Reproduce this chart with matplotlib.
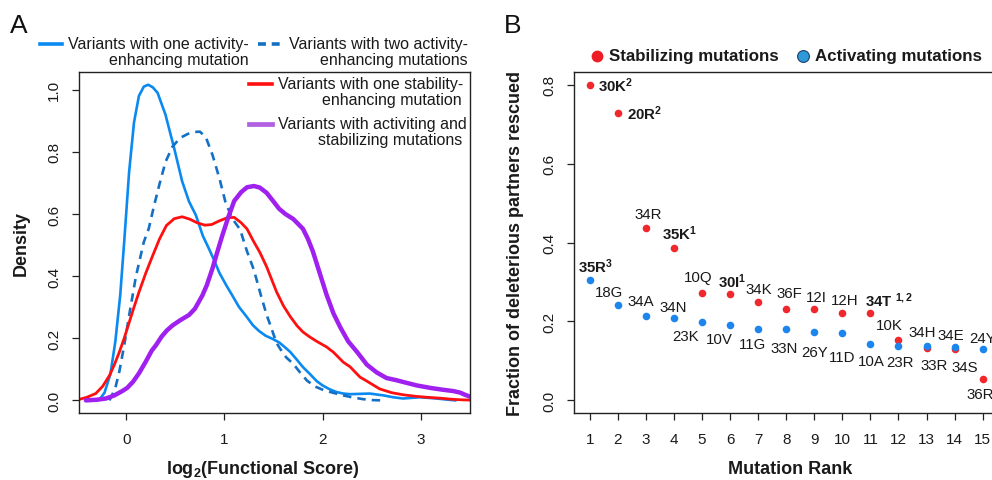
import matplotlib
matplotlib.use("Agg")
import matplotlib.pyplot as plt
from matplotlib.lines import Line2D

plt.rcParams['font.family'] = ['Liberation Sans', 'DejaVu Sans']
plt.rcParams['mathtext.fontset'] = 'custom'
plt.rcParams['mathtext.rm'] = 'Liberation Sans'
plt.rcParams['mathtext.bf'] = 'Liberation Sans:bold'
plt.rcParams['mathtext.it'] = 'Liberation Sans:italic'

# ---------------- Panel A data (density curves) ----------------
act1_x = [-0.30, -0.27, -0.22, -0.16, -0.11, -0.06, -0.02, 0.03, 0.08, 0.13, 0.18, 0.224, 0.27, 0.32,
          0.40, 0.49, 0.57, 0.64, 0.71, 0.78, 0.84, 0.89, 0.95, 1.02, 1.08, 1.15, 1.22, 1.29, 1.35, 1.42,
          1.49, 1.56, 1.62, 1.67, 1.74, 1.80, 1.87, 1.94, 2.00, 2.07, 2.14, 2.21, 2.28, 2.38, 2.48, 2.55,
          2.62, 2.72, 2.82, 2.90, 2.99, 3.08, 3.16, 3.25, 3.35]
act1_y = [0.000, 0.003, 0.025, 0.085, 0.19, 0.34, 0.51, 0.735, 0.895, 0.98, 1.01, 1.016, 1.008, 0.99,
          0.92, 0.81, 0.705, 0.64, 0.596, 0.53, 0.49, 0.455, 0.41, 0.37, 0.338, 0.30, 0.272, 0.242, 0.224, 0.208,
          0.198, 0.186, 0.17, 0.156, 0.13, 0.107, 0.085, 0.062, 0.048, 0.036, 0.027, 0.022, 0.020, 0.021, 0.022, 0.019,
          0.016, 0.010, 0.006, 0.008, 0.010, 0.008, 0.006, 0.003, 0.000]

act2_x = [-0.17, -0.14, -0.11, -0.07, -0.02, 0.03, 0.10, 0.18, 0.23, 0.285, 0.336, 0.40, 0.47, 0.55,
          0.63, 0.70, 0.75, 0.81, 0.88, 0.95, 1.01, 1.08, 1.16, 1.23, 1.30, 1.37, 1.43, 1.47, 1.53, 1.57,
          1.63, 1.70, 1.77, 1.84, 1.92, 2.01, 2.10, 2.21, 2.30, 2.41, 2.50, 2.60]
act2_y = [0.000, 0.020, 0.040, 0.092, 0.177, 0.273, 0.40, 0.51, 0.553, 0.628, 0.692, 0.767, 0.816, 0.845,
          0.858, 0.864, 0.865, 0.848, 0.789, 0.714, 0.639, 0.585, 0.55, 0.48, 0.42, 0.34, 0.275, 0.24, 0.185, 0.165,
          0.138, 0.118, 0.09, 0.064, 0.045, 0.033, 0.025, 0.016, 0.010, 0.004, 0.001, 0.000]

stab_x = [-0.48, -0.40, -0.31, -0.24, -0.17, -0.12, -0.07, -0.02, 0.03, 0.08, 0.13, 0.20, 0.27, 0.34,
          0.41, 0.49, 0.57, 0.65, 0.72, 0.80, 0.87, 0.95, 1.03, 1.10, 1.17, 1.23, 1.30, 1.36, 1.43, 1.465,
          1.53, 1.60, 1.67, 1.74, 1.80, 1.87, 1.94, 2.04, 2.11, 2.21, 2.28, 2.38, 2.45, 2.58, 2.70, 2.82,
          2.95, 3.06, 3.20, 3.30, 3.40, 3.50]
stab_y = [0.003, 0.010, 0.022, 0.045, 0.080, 0.115, 0.155, 0.20, 0.25, 0.30, 0.348, 0.41, 0.466, 0.52,
          0.563, 0.585, 0.591, 0.583, 0.572, 0.564, 0.566, 0.578, 0.588, 0.589, 0.572, 0.552, 0.51, 0.477, 0.43, 0.402,
          0.35, 0.305, 0.27, 0.240, 0.22, 0.204, 0.19, 0.172, 0.155, 0.123, 0.108, 0.075, 0.062, 0.037, 0.025, 0.018,
          0.013, 0.010, 0.007, 0.004, 0.002, 0.001]

both_x = [-0.41, -0.30, -0.206, -0.12, -0.04, 0.01, 0.07, 0.132, 0.20, 0.26, 0.302, 0.36, 0.414, 0.471,
          0.55, 0.64, 0.70, 0.776, 0.82, 0.878, 0.93, 0.98, 1.04, 1.10, 1.17, 1.23, 1.30, 1.36, 1.43, 1.50,
          1.556, 1.62, 1.70, 1.76, 1.80, 1.85, 1.90, 1.95, 2.00, 2.04, 2.11, 2.18, 2.26, 2.35, 2.45, 2.55,
          2.65, 2.75, 2.86, 2.96, 3.10, 3.23, 3.33, 3.40, 3.45, 3.50]
both_y = [0.000, 0.002, 0.006, 0.016, 0.030, 0.040, 0.060, 0.088, 0.125, 0.16, 0.177, 0.205, 0.225, 0.241,
          0.258, 0.275, 0.295, 0.338, 0.37, 0.424, 0.48, 0.532, 0.59, 0.642, 0.67, 0.686, 0.690, 0.685, 0.668, 0.64,
          0.617, 0.60, 0.584, 0.565, 0.552, 0.52, 0.48, 0.43, 0.38, 0.34, 0.28, 0.235, 0.19, 0.156, 0.115, 0.090,
          0.072, 0.065, 0.056, 0.048, 0.040, 0.034, 0.030, 0.025, 0.018, 0.012]

xticks_a = [0, 1, 2, 3]
yticks_a = [0.0, 0.2, 0.4, 0.6, 0.8, 1.0]

# ---------------- Panel B data ----------------
ranks = list(range(1, 16))
stab_frac = [0.800, 0.728, 0.437, 0.387, 0.273, 0.270, 0.250, 0.231, 0.231, 0.222, 0.222,
             0.152, 0.132, 0.130, 0.054]
stab_labels = [r'$\mathbf{30K^{2}}$', r'$\mathbf{20R^{2}}$', '34R', r'$\mathbf{35K^{1}}$', '10Q',
               r'$\mathbf{30I^{1}}$', '34K', '36F', '12I', '12H', r'$\mathbf{34T\ ^{1,2}}$',
               '10K', '33R', '34S', '36R']
act_frac = [0.305, 0.241, 0.213, 0.209, 0.199, 0.192, 0.181, 0.180, 0.172, 0.171, 0.143,
            0.139, 0.139, 0.135, 0.131]
act_labels = [r'$\mathbf{35R^{3}}$', '18G', '34A', '34N', '23K', '10V', '11G', '33N', '26Y', '11D',
              '10A', '23R', '34H', '34E', '24Y']

# label placement (pixel offsets from the point), layout only
stab_off = [(8, 0, 'left'), (9, 0, 'left'), (2, 14, 'center'), (6, 15, 'center'), (-4, 16, 'center'),
            (2, 13, 'center'), (1, 13, 'center'), (3, 16, 'center'), (2, 12, 'center'), (2, 13, 'center'),
            (19, 13, 'center'), (-9, 15, 'center'), (8, -17, 'center'), (10, -18, 'center'), (-2, -15, 'center')]
act_off = [(6, 14, 'center'), (-9, 13, 'center'), (-5, 15, 'center'), (-1, 11, 'center'), (-16, -14, 'center'),
           (-11, -14, 'center'), (-6, -15, 'center'), (-2, -19, 'center'), (0, -20, 'center'), (0, -24, 'center'),
           (1, -17, 'center'), (2, -16, 'center'), (-4, 14, 'center'), (-4, 12, 'center'), (0, 11, 'center')]

W, H = 992, 481
fig = plt.figure(figsize=(W / 100, H / 100), dpi=100)


def fx(px):
    return px / W


def fy(py):
    return 1 - py / H


c_act1 = '#0A8AF0'
c_act2 = '#1470C4'
c_stab = '#FF1010'
c_both = '#A020F0'

# ---------------- Panel A ----------------
axA = fig.add_axes([fx(79), fy(414), fx(470) - fx(79), fy(73) - fy(414)])
axA.plot(act1_x, act1_y, color=c_act1, lw=1.9, solid_joinstyle='round')
axA.plot(act2_x, act2_y, color=c_act2, lw=1.9, dashes=(3.2, 2.3))
axA.plot(stab_x, stab_y, color=c_stab, lw=2.0, solid_joinstyle='round')
axA.plot(both_x, both_y, color=c_both, lw=3.2, solid_joinstyle='round', solid_capstyle='round')
axA.set_xlim(-0.48, 3.5)
axA.set_ylim(-0.0406, 1.057)
axA.set_xticks(xticks_a)
axA.set_xticklabels([str(v) for v in xticks_a])
axA.set_yticks(yticks_a)
axA.set_yticklabels(['%.1f' % v for v in yticks_a])

# ---------------- Panel B ----------------
axB = fig.add_axes([fx(574), fy(414), fx(998.4) - fx(574), fy(73) - fy(414)])
axB.scatter(ranks, stab_frac, s=30, color='#F0282C', linewidths=0, zorder=3)
axB.scatter(ranks, act_frac, s=30, color='#1C86EE', linewidths=0, zorder=4)
for r, v, lab, (dx, dy, ha) in zip(ranks, stab_frac, stab_labels, stab_off):
    axB.annotate(lab, (r, v), xytext=(dx, dy), textcoords='offset pixels', ha=ha, va='center',
                 fontsize=10.8, color='#1a1a1a', annotation_clip=False)
for r, v, lab, (dx, dy, ha) in zip(ranks, act_frac, act_labels, act_off):
    axB.annotate(lab, (r, v), xytext=(dx, dy), textcoords='offset pixels', ha=ha, va='center',
                 fontsize=10.8, color='#1a1a1a', annotation_clip=False)
axB.set_xlim(0.44, 15.56)
axB.set_ylim(-0.032, 0.832)
axB.set_xticks(ranks)
axB.set_xticklabels([str(r) for r in ranks])
axB.set_yticks([0.0, 0.2, 0.4, 0.6, 0.8])
axB.set_yticklabels(['0.0', '0.2', '0.4', '0.6', '0.8'])

for ax in (axA, axB):
    for sp in ax.spines.values():
        sp.set_linewidth(1.0)
        sp.set_color('#222222')
    ax.tick_params(axis='both', length=5, width=0.9, color='#222222', labelsize=11,
                   labelcolor='#1a1a1a', direction='out')
    ax.tick_params(axis='x', pad=9)
    ax.tick_params(axis='y', pad=8)
    for t in ax.get_yticklabels():
        t.set_rotation(90)
        t.set_va('center')

# ---------------- axis labels and panel letters ----------------
fig.text(fx(21.5), fy(243.5), 'Density', rotation=90, ha='center', va='center',
         fontsize=13, fontweight='bold', color='#1a1a1a')
fig.text(fx(263), fy(470), r'log$_{\mathbf{2}}$(Functional Score)', ha='center', va='center',
         fontsize=13, fontweight='bold', color='#1a1a1a')
fig.text(fx(516), fy(243.5), 'Fraction of deleterious partners rescued', rotation=90,
         ha='center', va='center', fontsize=13, fontweight='bold', color='#1a1a1a')
fig.text(fx(790), fy(470), 'Mutation Rank', ha='center', va='center',
         fontsize=13, fontweight='bold', color='#1a1a1a')
fig.text(fx(10), fy(26), 'A', ha='left', va='center', fontsize=19, color='#111111')
fig.text(fx(504), fy(26), 'B', ha='left', va='center', fontsize=19, color='#111111')

# ---------------- Panel A legend ----------------
fig.add_artist(Line2D([fx(40), fx(62)], [fy(45), fy(45)], color=c_act1, lw=2.6))
fig.add_artist(Line2D([fx(258), fx(283)], [fy(45), fy(45)], color=c_act2, lw=2.6, dashes=(2.2, 1.6)))
fig.add_artist(Line2D([fx(249), fx(272)], [fy(85), fy(85)], color=c_stab, lw=2.6))
fig.add_artist(Line2D([fx(249), fx(272)], [fy(125), fy(125)], color='#B060E0', lw=3.4))
leg_lines = [
    ('Variants with one activity-', 249, 45), ('enhancing mutation', 249, 60),
    ('Variants with two activity-', 468, 45), ('enhancing mutations', 468, 60),
    ('Variants with one stability-', 463, 85), ('enhancing mutation', 462, 100),
    ('Variants with activiting and', 467, 125), ('stabilizing mutations', 462, 140),
]
for txt, xr, yc in leg_lines:
    fig.text(fx(xr), fy(yc), txt, ha='right', va='center', fontsize=11.5, color='#1a1a1a')

# ---------------- Panel B legend ----------------
fig.add_artist(Line2D([fx(596.7)], [fy(57)], marker='o', markersize=8.5, color='#EE1C24',
                      markeredgewidth=0, linestyle='none'))
fig.text(fx(609), fy(57), 'Stabilizing mutations', ha='left', va='center', fontsize=12.2,
         fontweight='bold', color='#1a1a1a')
fig.add_artist(Line2D([fx(802.7)], [fy(57)], marker='o', markersize=8.5, markerfacecolor='#2E9ADA',
                      markeredgecolor='#1F3F66', markeredgewidth=0.8, linestyle='none'))
fig.text(fx(814.7), fy(57), 'Activating mutations', ha='left', va='center', fontsize=12.2,
         fontweight='bold', color='#1a1a1a')

fig.savefig('out.png', dpi=100)
